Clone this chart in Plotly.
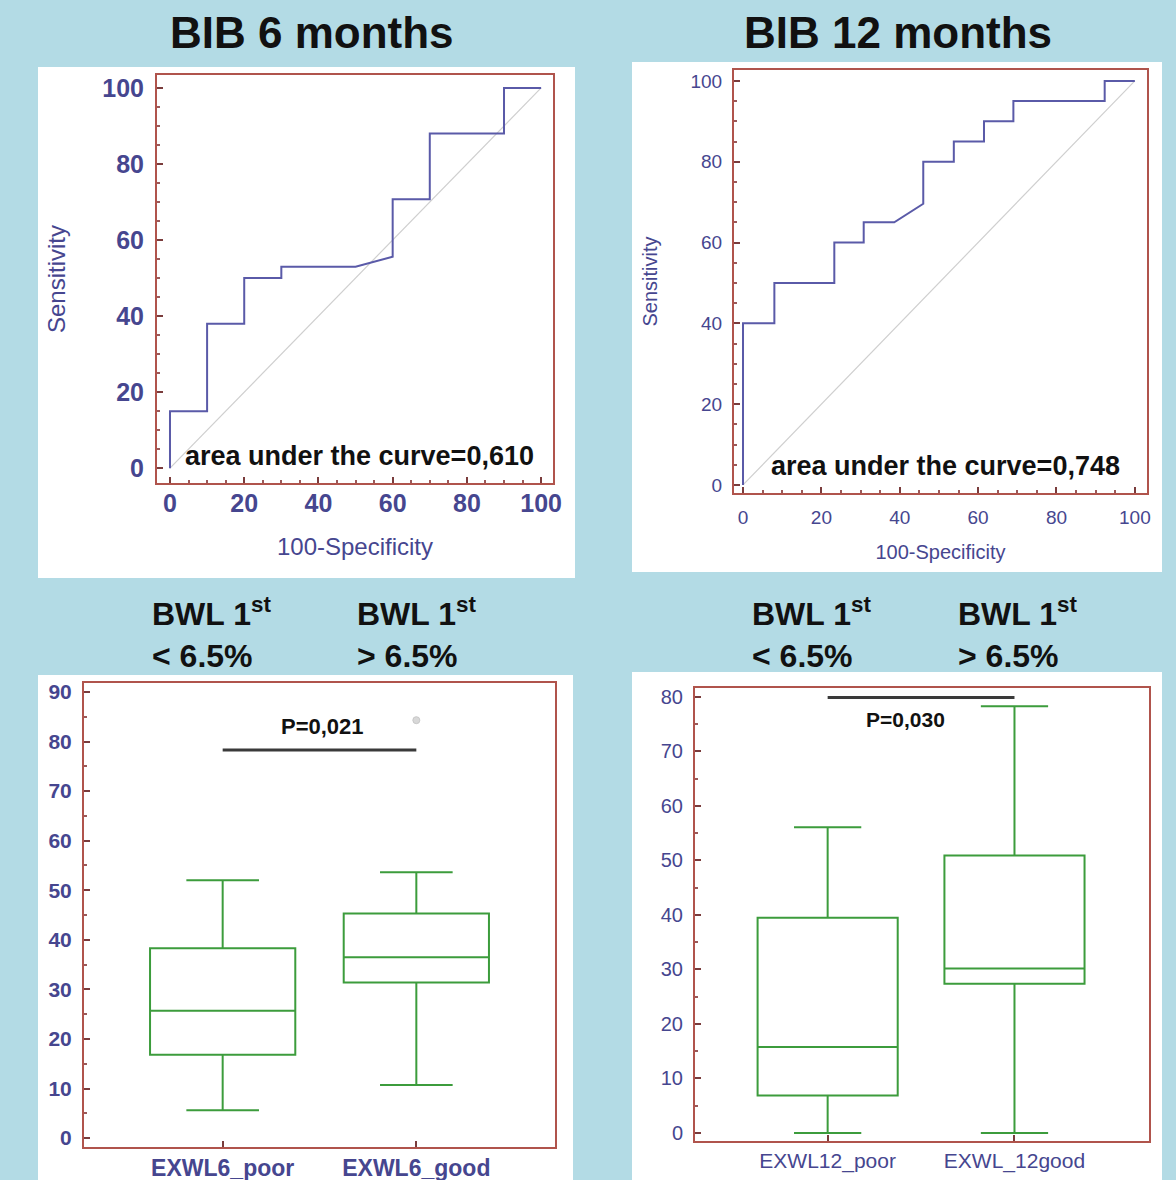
import plotly.graph_objects as go

W, H = 1176, 1180

# ---------------- data ----------------
roc6_fpr = [0, 0, 10, 10, 20, 20, 30, 30, 50, 60, 60, 70, 70, 90, 90, 100]
roc6_tpr = [0, 15, 15, 38, 38, 50, 50, 53, 53, 55.6, 70.7, 70.7, 88, 88, 100, 100]
auc6_label = "area under the curve=0,610"

roc12_fpr = [0, 0, 8, 8, 23.3, 23.3, 30.8, 30.8, 38.6, 46, 46, 53.8, 53.8, 61.5, 61.5, 69, 69, 92.3, 92.3, 100]
roc12_tpr = [0, 40, 40, 50, 50, 60, 60, 65, 65, 69.6, 80, 80, 85, 85, 90, 90, 95, 95, 100, 100]
auc12_label = "area under the curve=0,748"

diag = [0, 100]

cats6 = ["EXWL6_poor", "EXWL6_good"]
low6 = [5.6, 10.7]
q1_6 = [16.8, 31.4]
med6 = [25.7, 36.5]
q3_6 = [38.3, 45.3]
high6 = [52.0, 53.6]
outlier6_cat = ["EXWL6_good"]
outlier6_val = [84.3]
p6_y = [78.3, 78.3]
p6_label = "P=0,021"

cats12 = ["EXWL12_poor", "EXWL_12good"]
low12 = [0.0, 0.0]
q1_12 = [6.9, 27.4]
med12 = [15.8, 30.2]
q3_12 = [39.5, 50.9]
high12 = [56.1, 78.3]
p12_y = [79.9, 79.9]
p12_label = "P=0,030"

titles = ["BIB 6 months", "BIB 12 months"]
grp_lo = "BWL 1<sup>st</sup><br>&lt; 6.5%"
grp_hi = "BWL 1<sup>st</sup><br>&gt; 6.5%"

# ---------------- styles ----------------
BG = "#b3dbe5"
FRAME = "#b0544c"
TICKC = "#46468f"
ROCC = "#5a5aa8"
BOXC = "#3c9c3c"
FONT = "Liberation Sans, Arial, sans-serif"


def px(x):
    return x / W


def py(y):
    return 1 - y / H


fig = go.Figure()

# ROC traces
fig.add_trace(go.Scatter(x=diag, y=diag, mode="lines", line=dict(color="#cfcfcf", width=1.2),
                         xaxis="x", yaxis="y", showlegend=False, hoverinfo="skip"))
fig.add_trace(go.Scatter(x=roc6_fpr, y=roc6_tpr, mode="lines", line=dict(color=ROCC, width=2),
                         xaxis="x", yaxis="y", showlegend=False))
fig.add_trace(go.Scatter(x=diag, y=diag, mode="lines", line=dict(color="#cfcfcf", width=1.2),
                         xaxis="x2", yaxis="y2", showlegend=False, hoverinfo="skip"))
fig.add_trace(go.Scatter(x=roc12_fpr, y=roc12_tpr, mode="lines", line=dict(color=ROCC, width=2),
                         xaxis="x2", yaxis="y2", showlegend=False))

# Box traces
fig.add_trace(go.Box(x=cats6, q1=q1_6, median=med6, q3=q3_6, lowerfence=low6, upperfence=high6,
                     xaxis="x3", yaxis="y3", width=0.75, whiskerwidth=0.5,
                     line=dict(color=BOXC, width=2), fillcolor="rgba(255,255,255,0)",
                     boxpoints=False, showlegend=False))
fig.add_trace(go.Scatter(x=outlier6_cat, y=outlier6_val, mode="markers",
                         marker=dict(color="#d8d8d8", size=7, line=dict(color="#c8c8c8", width=1)),
                         xaxis="x3", yaxis="y3", showlegend=False))
fig.add_trace(go.Scatter(x=cats6, y=p6_y, mode="lines", line=dict(color="#3a3a3a", width=3),
                         xaxis="x3", yaxis="y3", showlegend=False, hoverinfo="skip"))

fig.add_trace(go.Box(x=cats12, q1=q1_12, median=med12, q3=q3_12, lowerfence=low12, upperfence=high12,
                     xaxis="x4", yaxis="y4", width=0.75, whiskerwidth=0.48,
                     line=dict(color=BOXC, width=2), fillcolor="rgba(255,255,255,0)",
                     boxpoints=False, showlegend=False))
fig.add_trace(go.Scatter(x=cats12, y=p12_y, mode="lines", line=dict(color="#3a3a3a", width=3),
                         xaxis="x4", yaxis="y4", showlegend=False, hoverinfo="skip"))


def axis(domain, rng, anchor, dtick=None, minor_dtick=None, fs=20, title=None, tfs=20,
         standoff=10, tls=4, cat=False, bold=False):
    d = dict(domain=domain, range=rng, anchor=anchor, showline=True, mirror=True,
             linecolor=FRAME, linewidth=2, showgrid=False, zeroline=False, automargin=False,
             ticks="inside", ticklen=6, tickcolor="#7a3c3c", tickwidth=1.5,
             tickfont=dict(family=FONT, size=fs, color=TICKC, weight="bold" if bold else "normal"),
             ticklabelstandoff=tls)
    if cat:
        d["type"] = "category"
    else:
        d["dtick"] = dtick
        d["tick0"] = 0
        d["minor"] = dict(dtick=minor_dtick, tick0=0, ticks="inside", ticklen=3,
                          tickcolor="#9a5a5a", showgrid=False)
    if title:
        d["title"] = dict(text=title, font=dict(family=FONT, size=tfs, color=TICKC), standoff=standoff)
    return d


layout = dict(
    width=W, height=H, margin=dict(l=0, r=0, t=0, b=0, autoexpand=False),
    paper_bgcolor=BG, plot_bgcolor="white", showlegend=False,
    font=dict(family=FONT),
    xaxis=axis([px(157), px(553)], [-3.5, 103.2], "y", 20, 5, fs=25, title="100-Specificity", tfs=24,
               standoff=22, tls=-3, bold=True),
    yaxis=axis([py(483), py(75)], [-3.9, 103.4], "x", 20, 5, fs=25, title="Sensitivity", tfs=24,
               standoff=30, tls=6, bold=True),
    xaxis2=axis([px(734), px(1147)], [-2.3, 103.1], "y2", 20, 5, fs=19, title="100-Specificity", tfs=20,
                standoff=18, tls=6),
    yaxis2=axis([py(493), py(70)], [-2.0, 102.7], "x2", 20, 5, fs=19, title="Sensitivity", tfs=20,
                standoff=27, tls=6),
    xaxis3=axis([px(84), px(555)], [-0.716, 1.716], "y3", fs=23, cat=True, tls=-1, bold=True),
    yaxis3=axis([py(1147), py(683)], [-1.8, 91.8], "x3", 10, 5, fs=21, tls=6, bold=True),
    xaxis4=axis([px(695), px(1149)], [-0.71, 1.72], "y4", fs=21, cat=True, tls=0),
    yaxis4=axis([py(1141), py(688)], [-1.47, 81.65], "x4", 10, 5, fs=20, tls=6),
)

shapes = []
for (x0, y0, x1, y1) in [(38, 67, 575, 578), (632, 62, 1162, 572), (38, 675, 573, 1180), (632, 672, 1162, 1180)]:
    shapes.append(dict(type="rect", xref="paper", yref="paper", x0=px(x0), x1=px(x1), y0=py(y1), y1=py(y0),
                       fillcolor="white", line=dict(width=0), layer="below"))
layout["shapes"] = shapes


def note(text, x, y, size, xanchor="center", yanchor="middle", align="center"):
    return dict(text=text, x=px(x), y=py(y), xref="paper", yref="paper", xanchor=xanchor,
                yanchor=yanchor, align=align, showarrow=False,
                font=dict(family=FONT, size=size, color="#111"))


ann = [
    note("<b>%s</b>" % titles[0], 312, 33, 44),
    note("<b>%s</b>" % titles[1], 898, 33, 44),
    note("<b>%s</b>" % auc6_label, 359, 456, 27),
    note("<b>%s</b>" % auc12_label, 946, 466, 27),
    note("<b>%s</b>" % p6_label, 322, 726, 22),
    note("<b>%s</b>" % p12_label, 905, 719, 21),
]
for xx, txt in [(150, grp_lo), (355, grp_hi), (750, grp_lo), (956, grp_hi)]:
    ann.append(note("<b>%s</b>" % txt, xx, 590, 32, xanchor="left", yanchor="top", align="left"))
layout["annotations"] = ann

fig.update_layout(**layout)
fig.write_html("out.html", config={"displayModeBar": False},
               post_script="document.body.style.margin='0px';document.body.style.overflow='hidden';")
